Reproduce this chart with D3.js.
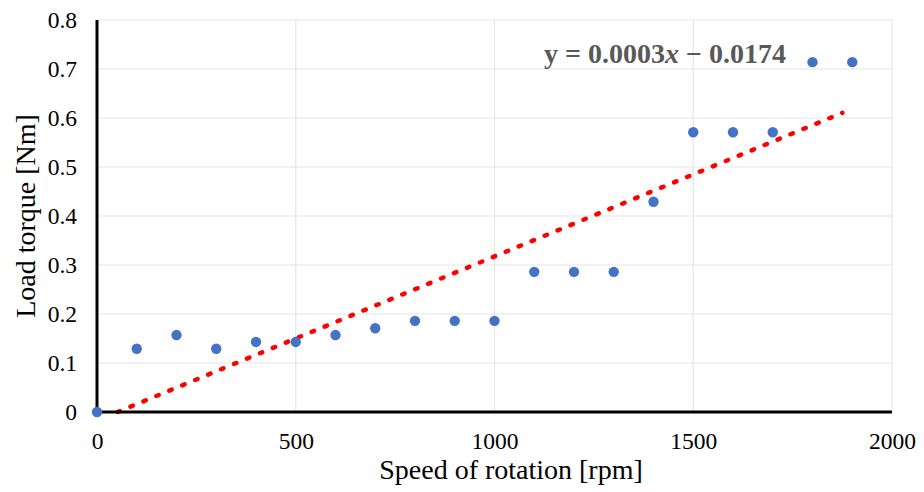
<!DOCTYPE html>
<html><head><meta charset="utf-8">
<script src="https://cdn.jsdelivr.net/npm/d3@7"></script>
<style>body{margin:0;background:#fff}svg{display:block}</style>
</head><body>
<svg id="c" width="924" height="492" font-family="'Liberation Serif','Times New Roman',serif"></svg>
<script>
const speeds = [0,100,200,300,400,500,600,700,800,900,1000,1100,1200,1300,1400,1500,1600,1700,1800,1900];
const torques = [0,0.129,0.157,0.129,0.143,0.143,0.157,0.171,0.186,0.186,0.186,0.286,0.286,0.286,0.429,0.571,0.571,0.571,0.714,0.714];
const xTicks = [0,500,1000,1500,2000];
const yTicks = [0,0.1,0.2,0.3,0.4,0.5,0.6,0.7,0.8];
const xTitle = "Speed of rotation [rpm]";
const yTitle = "Load torque [Nm]";
const SERIF = "'Liberation Serif','Times New Roman',serif";

const W=924,H=492,m={l:97,r:32,t:20,b:80};
const svg=d3.select("#c");
const x=d3.scaleLinear().domain([0,2000]).range([m.l,W-m.r]);
const y=d3.scaleLinear().domain([0,0.8]).range([H-m.b,m.t]);

// gridlines
svg.append("g").selectAll("line").data(yTicks.slice(1)).join("line")
 .attr("x1",m.l).attr("x2",W-m.r).attr("y1",d=>y(d)).attr("y2",d=>y(d))
 .attr("stroke","#e6e6e6").attr("stroke-width",1.2);
svg.append("g").selectAll("line").data(xTicks.slice(1)).join("line")
 .attr("x1",d=>x(d)).attr("x2",d=>x(d)).attr("y1",m.t).attr("y2",H-m.b)
 .attr("stroke","#e6e6e6").attr("stroke-width",1.2);

// trendline (least squares)
const mx=d3.mean(speeds), my=d3.mean(torques);
let sxy=0,sxx=0;
speeds.forEach((v,i)=>{sxy+=(v-mx)*(torques[i]-my);sxx+=(v-mx)*(v-mx);});
const slope=sxy/sxx, icpt=my-slope*mx;
const x0=Math.max(d3.min(speeds),-icpt/slope), x1=d3.max(speeds)-25;
svg.append("line")
 .attr("x1",x(x0)).attr("y1",y(slope*x0+icpt))
 .attr("x2",x(x1)).attr("y2",y(slope*x1+icpt))
 .attr("stroke","#ff0000").attr("stroke-width",4.5)
 .attr("stroke-dasharray","2.5,11.5").attr("stroke-linecap","round");

// axes
const xa=svg.append("g").attr("transform",`translate(0,${H-m.b})`)
 .call(d3.axisBottom(x).tickValues(xTicks).tickSize(0).tickPadding(20).tickFormat(d3.format("d")));
const ya=svg.append("g").attr("transform",`translate(${m.l},0)`)
 .call(d3.axisLeft(y).tickValues(yTicks).tickSize(0).tickPadding(20).tickFormat(d=>d===0?"0":d3.format(".1f")(d)));
[xa,ya].forEach(a=>{a.attr("font-family",SERIF).attr("font-size",23.5);
 a.select(".domain").attr("stroke","#000").attr("stroke-width",3);
 a.selectAll("text").attr("fill","#000");});
xa.select(".domain").attr("d",`M${m.l-1.5},0H${W-m.r}`);
ya.select(".domain").attr("d",`M0,${m.t}V${H-m.b+1.5}`);

// points
svg.append("g").selectAll("circle").data(speeds).join("circle")
 .attr("cx",d=>x(d)).attr("cy",(d,i)=>y(torques[i])).attr("r",5.2).attr("fill","#4472c4");

// titles
svg.append("text").attr("x",511).attr("y",479).attr("text-anchor","middle")
 .attr("font-size",28).text(xTitle);
svg.append("text").attr("transform",`translate(35,${(m.t+H-m.b)/2}) rotate(-90)`).attr("text-anchor","middle")
 .attr("font-size",28).text(yTitle);

// equation
const eq=svg.append("text").attr("x",544).attr("y",63).attr("font-size",28).attr("font-weight","bold").attr("fill","#595959");
eq.append("tspan").text("y = 0.0003");
eq.append("tspan").attr("font-style","italic").text("x");
eq.append("tspan").text(" − 0.0174");
</script>
</body></html>
